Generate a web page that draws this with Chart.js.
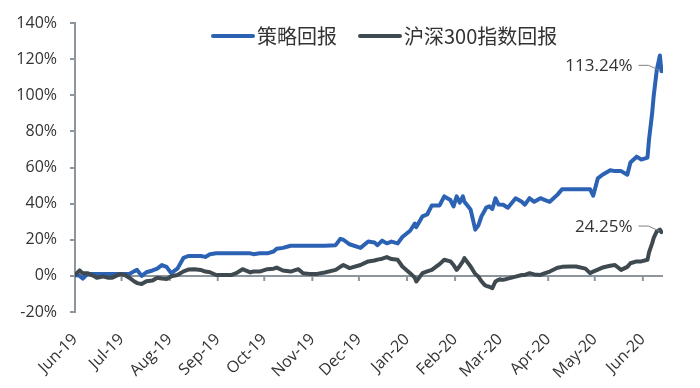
<!DOCTYPE html>
<html>
<head>
<meta charset="utf-8">
<script src="https://cdn.jsdelivr.net/npm/chart.js@4/dist/chart.umd.min.js"></script>
<style>
  html, body { margin: 0; padding: 0; background: #fff; }
  #wrap { width: 700px; height: 388px; position: relative; }
</style>
</head>
<body>
<div id="wrap"><canvas id="chart"></canvas></div>
<script>
// series names (legend)
const seriesNames = ["策略回报", "沪深300指数回报"];

// month ticks: days since 2019-06-01
const tickDays = [0, 30, 61, 92, 122, 153, 183, 214, 245, 274, 305, 335, 366];
const tickLabels = ["Jun-19", "Jul-19", "Aug-19", "Sep-19", "Oct-19", "Nov-19", "Dec-19",
                    "Jan-20", "Feb-20", "Mar-20", "Apr-20", "May-20", "Jun-20"];

// sample dates, days since 2019-06-01
const days = [
  0, 3, 5, 8, 12, 14, 18, 21, 24, 29, 32, 35, 38, 40, 43, 46, 50, 53, 56, 59,
  62, 66, 70, 73, 77, 81, 84, 87, 91, 97, 101, 104, 108, 113, 115, 119, 124, 128, 130, 134,
  139, 144, 147, 151, 156, 161, 168, 171, 173, 177, 184, 189, 193, 195, 198, 201, 204, 208, 211, 216,
  219, 220, 224, 227, 230, 233, 235, 238, 242, 244, 246, 248, 250, 251, 255, 258, 260, 262, 264, 265,
  267, 269, 271, 273, 276, 279, 284, 288, 290, 293, 296, 300, 303, 306, 311, 314, 319, 323, 329, 332,
  334, 337, 340, 345, 348, 352, 356, 358, 362, 365, 369, 370, 372, 373, 375, 377, 378
];

// cumulative return, %
const strategy = [
  0.5, 0, -1.5, 1, 1, 1, 1, 1, 1, 1, 1, 1, 2.5, 3.3, 0, 2, 3, 4, 6, 5,
  1.5, 4, 10, 11, 11, 11, 10.5, 12, 12.5, 12.5, 12.5, 12.5, 12.5, 12.5, 12, 12.5, 12.5, 13.5, 15, 15.5,
  16.7, 16.7, 16.7, 16.7, 16.7, 16.7, 17, 20.5, 20, 17.5, 15.5, 19, 18.5, 17, 19.5, 18, 19, 18, 21.5, 25,
  29, 27, 33, 34, 39, 39, 39, 44, 42, 38.5, 44, 40.5, 44, 41, 36.7, 25.6, 28, 33, 36, 37.8,
  38.5, 37, 43, 39.5, 39.4, 37.7, 43, 41, 39.4, 43, 41, 43, 42, 41, 45, 48, 48, 48, 48, 48,
  44.4, 54, 56, 58.5, 58, 58, 56, 62.8, 66, 64.4, 65.5, 75.5, 90, 99.6, 114, 122, 113.24
];

const csi300 = [
  0.5, 3, 1.5, 1.5, 0, -1, -0.3, -1, -1, 1, 0.5, -1, -3, -4, -4.5, -3, -2.6, -1, -1.5, -1.7,
  -0.3, 0.5, 2.5, 3.5, 3.7, 3.3, 2.4, 2, 0.5, 0.5, 0.5, 1.5, 3.7, 1.9, 2.4, 2.4, 3.7, 4, 4.6, 3,
  2.4, 3.7, 1.5, 1.1, 1.1, 1.9, 3.3, 5, 6, 4.3, 6, 8, 8.5, 9, 9.5, 10.4, 9.3, 8.9, 5.2, 1.5,
  -1, -3.1, 1.5, 2.5, 3.3, 5.2, 6.5, 8.9, 8, 6, 3.3, 5.5, 8, 9.8, 5.2, 1, -0.4, -3, -5, -5.5,
  -6, -6.8, -3.1, -2.2, -2.2, -1.5, -0.4, 0.5, 0.5, 1.5, 0.8, 0.5, 1.5, 2.4, 4.5, 5, 5.2, 5.2, 4, 1.5,
  2.4, 3.5, 4.6, 5.6, 6, 3.3, 5, 7, 8, 8, 8.9, 13, 18, 21, 24.6, 25.6, 24.25
];

const BLUE = "#2c62b4";
const GRAY = "#3f4a50";
const AXIS = "#8c969c";
const TEXT = "#333333";
const FONT = "'Open Sans', 'Liberation Sans', sans-serif";
const CJK = "'Noto Sans CJK SC', sans-serif";

// horizontal axis line at 0% with month tick marks
const zeroAxis = {
  id: "zeroAxis",
  beforeDatasetsDraw(chart) {
    const { ctx, chartArea, scales: { x, y } } = chart;
    const y0 = y.getPixelForValue(0);
    ctx.save();
    ctx.strokeStyle = AXIS;
    ctx.lineWidth = 2;
    ctx.beginPath();
    ctx.moveTo(chartArea.left, y0);
    ctx.lineTo(chartArea.right, y0);
    tickDays.forEach(d => {
      const px = x.getPixelForValue(d);
      ctx.moveTo(px, y0);
      ctx.lineTo(px, y0 + 5);
    });
    ctx.stroke();
    ctx.restore();
  }
};

// floating legend inside the plot
const legendItems = {
  id: "legendItems",
  afterDraw(chart) {
    const { ctx } = chart;
    const items = [
      { x: 213, color: BLUE, text: seriesNames[0] },
      { x: 360, color: GRAY, text: seriesNames[1] }
    ];
    ctx.save();
    ctx.font = "20px " + CJK;
    ctx.textBaseline = "middle";
    ctx.lineCap = "round";
    items.forEach(it => {
      ctx.strokeStyle = it.color;
      ctx.lineWidth = 4;
      ctx.beginPath();
      ctx.moveTo(it.x, 36);
      ctx.lineTo(it.x + 40, 36);
      ctx.stroke();
      ctx.fillStyle = TEXT;
      ctx.fillText(it.text, it.x + 44, 36);
    });
    ctx.restore();
  }
};

// last-value labels with leader lines
const endLabels = {
  id: "endLabels",
  afterDatasetsDraw(chart) {
    const { ctx } = chart;
    ctx.save();
    ctx.font = "17px " + FONT;
    ctx.textAlign = "right";
    ctx.textBaseline = "middle";
    chart.data.datasets.forEach((ds, i) => {
      const pts = chart.getDatasetMeta(i).data;
      const pt = pts[pts.length - 1];
      const val = ds.data[ds.data.length - 1].y;
      const tx = pt.x - 29;
      const ty = pt.y - 5;
      ctx.fillStyle = TEXT;
      ctx.fillText(val.toFixed(2) + "%", tx, ty);
      ctx.strokeStyle = "#808080";
      ctx.lineWidth = 1;
      ctx.beginPath();
      ctx.moveTo(tx + 6, ty - 1);
      ctx.lineTo(pt.x - 13, ty - 1);
      ctx.lineTo(pt.x - 2, pt.y - 1);
      ctx.stroke();
    });
    ctx.restore();
  }
};

const ctx = document.getElementById("chart").getContext("2d");

new Chart(ctx, {
  type: "line",
  data: {
    datasets: [
      {
        label: seriesNames[0],
        data: days.map((d, i) => ({ x: d, y: strategy[i] })),
        borderColor: BLUE,
        borderWidth: 4,
        order: 1
      },
      {
        label: seriesNames[1],
        data: days.map((d, i) => ({ x: d, y: csi300[i] })),
        borderColor: GRAY,
        borderWidth: 4,
        order: 0
      }
    ]
  },
  options: {
    responsive: true,
    maintainAspectRatio: false,
    animation: false,
    layout: { padding: { left: 0, right: 37, top: 23, bottom: 0 } },
    elements: {
      point: { radius: 0 },
      line: { tension: 0, borderJoinStyle: "round", borderCapStyle: "round" }
    },
    plugins: {
      legend: { display: false },
      tooltip: { enabled: false }
    },
    scales: {
      x: {
        type: "linear",
        min: 0,
        max: 379,
        afterBuildTicks: s => { s.ticks = tickDays.map(v => ({ value: v })); },
        afterFit: s => { s.height = 76; },
        ticks: {
          autoSkip: false,
          minRotation: 45,
          maxRotation: 45,
          padding: 18,
          color: TEXT,
          font: { family: FONT, size: 16 },
          callback: (v, i) => tickLabels[i]
        },
        grid: { display: false, drawTicks: false },
        border: { display: false }
      },
      y: {
        min: -20,
        max: 140,
        afterFit: s => { s.width = 75; },
        ticks: {
          stepSize: 20,
          padding: 13,
          color: TEXT,
          font: { family: FONT, size: 16 },
          callback: v => v + "%"
        },
        grid: { drawOnChartArea: false, tickLength: 5, color: AXIS, lineWidth: 2 },
        border: { display: true, color: AXIS, width: 2 }
      }
    }
  },
  plugins: [zeroAxis, legendItems, endLabels]
});
</script>
</body>
</html>
